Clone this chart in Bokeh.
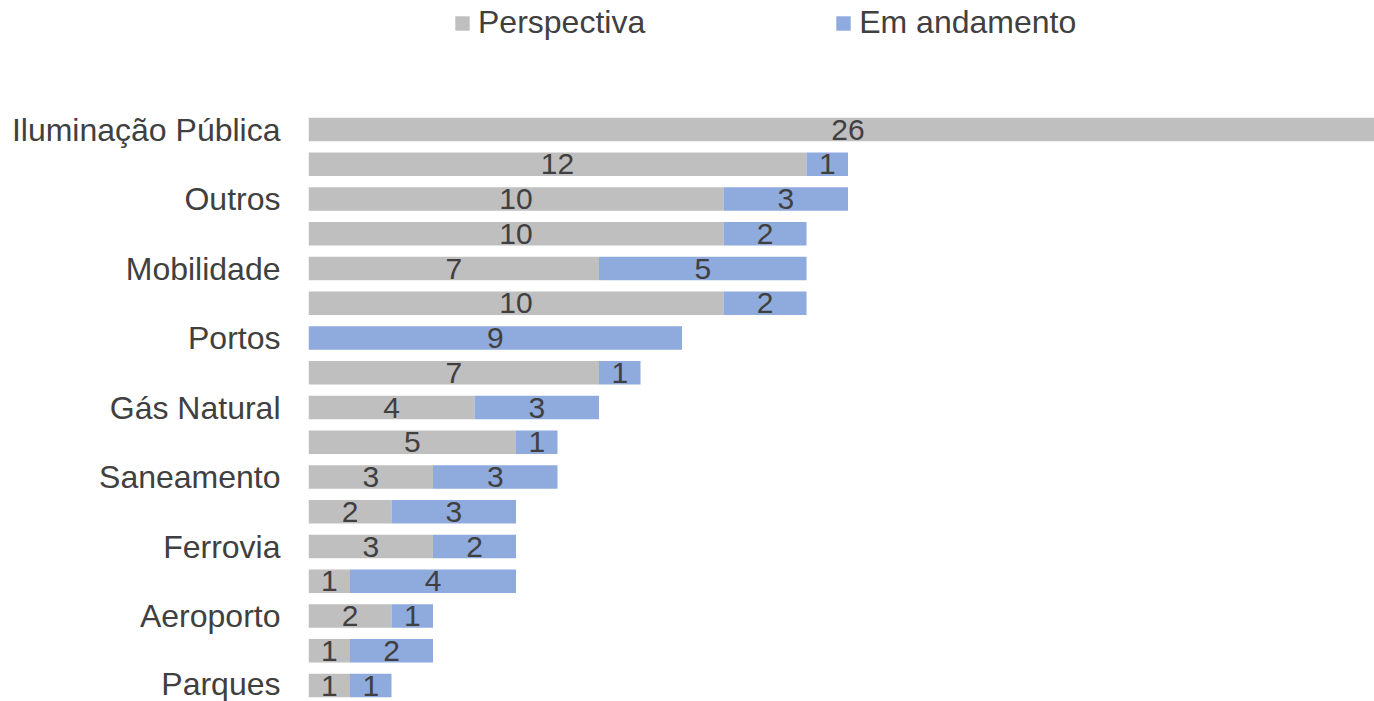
from bokeh.plotting import figure
from bokeh.models import ColumnDataSource, Range1d, FixedTicker, Legend, LegendItem
from bokeh.core.properties import value
from bokeh.embed import file_html
from bokeh.resources import INLINE

categories = ["Iluminação Pública", "", "Outros", "", "Mobilidade", "", "Portos", "",
              "Gás Natural", "", "Saneamento", "", "Ferrovia", "", "Aeroporto", "", "Parques"]
perspectiva = [26, 12, 10, 10, 7, 10, 0, 7, 4, 5, 3, 2, 3, 1, 2, 1, 1]
andamento = [0, 1, 3, 2, 5, 2, 9, 1, 3, 1, 3, 3, 2, 4, 1, 2, 1]
series_names = ["Perspectiva", "Em andamento"]

GRAY = "#BFBFBF"
BLUE = "#8FAADC"
TXT = "#404040"
FONT = "Liberation Sans"

n = len(categories)
ys = [n - 1 - i for i in range(n)]
p_end = perspectiva
a_end = [pv + av for pv, av in zip(perspectiva, andamento)]

src = ColumnDataSource(dict(y=ys, p0=[0] * n, p1=p_end, a0=p_end, a1=a_end))

W, H = 1374, 701
LEFT = 308
UNIT_X = 41.5
UNIT_Y = 34.75
y_bottom = -16 / UNIT_Y
y_top = y_bottom + H / UNIT_Y

p = figure(width=W, height=H, output_backend="svg", toolbar_location=None,
           x_range=Range1d(0, (W - LEFT) / UNIT_X), y_range=Range1d(y_bottom, y_top),
           min_border_left=LEFT, min_border_right=0, min_border_top=0, min_border_bottom=0)

r1 = p.hbar(y="y", left="p0", right="p1", height=0.67, fill_color=GRAY, line_color=None, source=src)
r2 = p.hbar(y="y", left="a0", right="a1", height=0.67, fill_color=BLUE, line_color=None, source=src)

# value labels
lx, ly, lt = [], [], []
for i in range(n):
    if perspectiva[i] > 0:
        lx.append(perspectiva[i] / 2)
        ly.append(ys[i])
        lt.append(str(perspectiva[i]))
    if andamento[i] > 0:
        lx.append(perspectiva[i] + andamento[i] / 2)
        ly.append(ys[i])
        lt.append(str(andamento[i]))
lsrc = ColumnDataSource(dict(x=lx, y=ly, t=lt))
p.text(x="x", y="y", text="t", source=lsrc, text_align="center", text_baseline="middle",
       text_font=value(FONT), text_font_size="30px", text_color=TXT)

p.xaxis.visible = False
p.grid.visible = False
p.outline_line_color = None

labeled = [ys[i] for i in range(n) if categories[i]]
p.yaxis.ticker = FixedTicker(ticks=labeled)
p.yaxis.major_label_overrides = {ys[i]: categories[i] for i in range(n) if categories[i]}
p.yaxis.axis_line_color = None
p.yaxis.major_tick_line_color = None
p.yaxis.minor_tick_line_color = None
p.yaxis.major_tick_out = 0
p.yaxis.major_tick_in = 0
p.yaxis.major_label_standoff = 28
p.yaxis.major_label_text_font = FONT
p.yaxis.major_label_text_font_size = "32px"
p.yaxis.major_label_text_color = TXT

legend = Legend(items=[LegendItem(label=series_names[0], renderers=[r1]),
                       LegendItem(label=series_names[1], renderers=[r2])],
                location=(145, 660), orientation="horizontal",
                glyph_width=18, glyph_height=18, label_standoff=7, spacing=189,
                padding=0, margin=0, border_line_alpha=0, background_fill_alpha=0,
                label_text_font=FONT, label_text_font_size="32px", label_text_color=TXT)
p.add_layout(legend, "center")

open("out.html", "w").write(file_html(p, INLINE))
